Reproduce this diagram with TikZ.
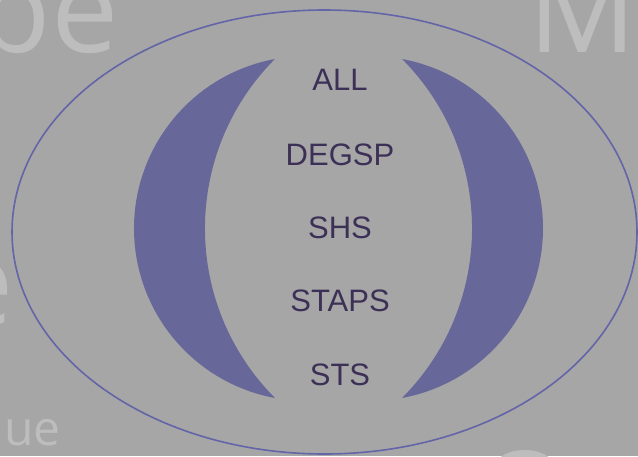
\documentclass[tikz,border=0pt]{standalone}
\usepackage{fontspec}
\setmainfont{Liberation Sans}
\newfontfamily\ghostfont{Open Sans}
\definecolor{slidegray}{HTML}{A6A6A6}
\definecolor{ghostgray}{HTML}{BDBDBD}
\definecolor{moon}{HTML}{67679A}
\definecolor{rim}{HTML}{6464A8}
\definecolor{ink}{HTML}{3D3057}

\begin{document}
\begin{tikzpicture}[x=1pt, y=-1pt,
        dept/.style={text=ink, inner sep=0pt, font=\fontsize{31}{31}\selectfont},
        ghost/.style={text=ghostgray, inner sep=0pt, font=\ghostfont\fontsize{120}{120}\selectfont}]
        \useasboundingbox (0,0) rectangle (638,456);
        \clip (0,0) rectangle (638,456);
        \fill [slidegray] (0,0) rectangle (638,456);
        % leftovers of the slide behind
        \node[ghost, anchor=base east] (pe) at (119,52) {pe};
        \node[ghost, anchor=base west] (em) at (528,52) {M};
        \node[ghost, anchor=base east] (ee) at (14,325) {e};
        \node[ghost, anchor=base west, font=\ghostfont\fontsize{48}{48}\selectfont] (ue) at (4,445) {ue};
        \node[ghost, anchor=north] (oh) at (525,450) {O};
        % ring and the two moons
        \draw [rim, line width=1.6pt] (324.5,232) ellipse [x radius=312.5, y radius=222];
        \fill [moon] (275,59) arc[start angle=259.5, end angle=100.5, radius=172.4]
                arc[start angle=135.1, end angle=224.9, radius=240.2] -- cycle;
        \fill [moon] (402,59) arc[start angle=-79.5, end angle=79.5, radius=172.4]
                arc[start angle=44.9, end angle=-44.9, radius=240.2] -- cycle;
        % names
        \node[dept] (all) at (340,80) {ALL};
        \node[dept] (degsp) at (340,155) {DEGSP};
        \node[dept] (shs) at (340,227.5) {SHS};
        \node[dept] (staps) at (340,300.5) {STAPS};
        \node[dept] (sts) at (340,374.5) {STS};
    \end{tikzpicture}
\end{document}
